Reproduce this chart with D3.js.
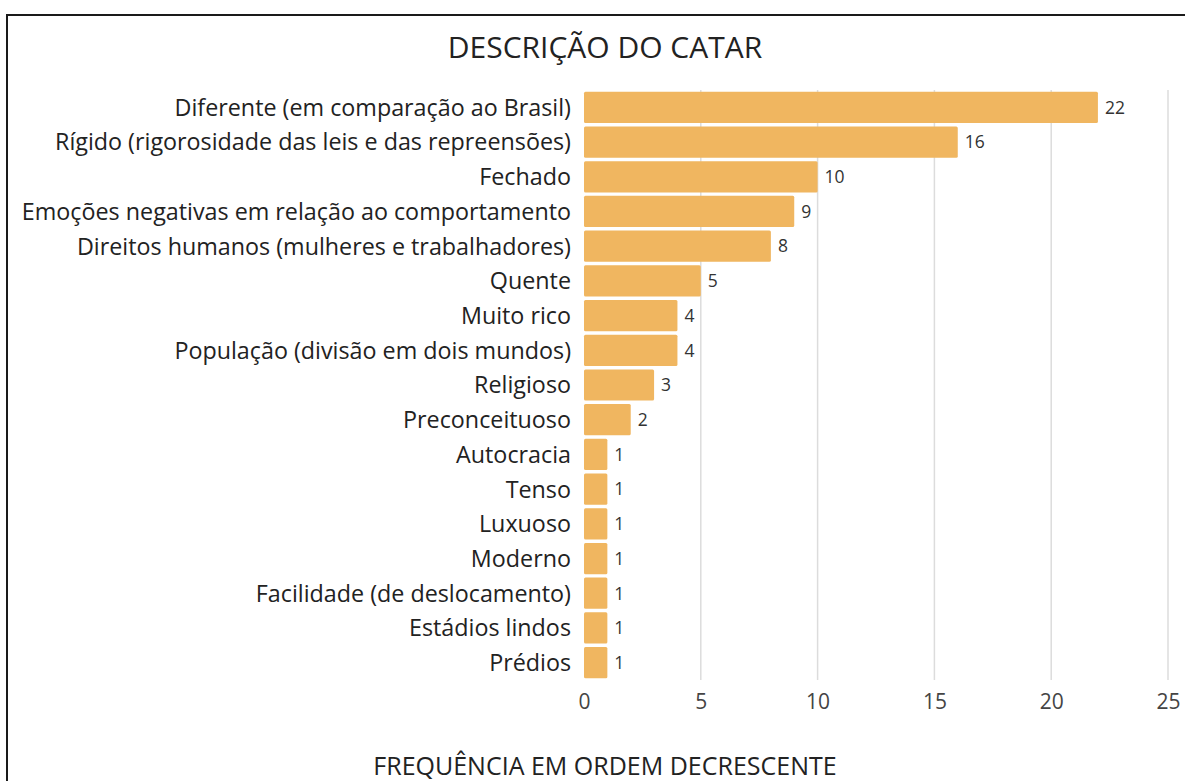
<!DOCTYPE html>
<html>
<head>
<meta charset="utf-8">
<script src="https://cdn.jsdelivr.net/npm/d3@7"></script>
<style>
  html, body { margin: 0; padding: 0; background: #fff; }
  svg { display: block; font-family: "Open Sans", sans-serif; }
</style>
</head>
<body>
<svg id="chart" width="1185" height="781"></svg>
<script>
// Categories and their counts, in descending order
const categories = [
  "Diferente (em comparação ao Brasil)",
  "Rígido (rigorosidade das leis e das repreensões)",
  "Fechado",
  "Emoções negativas em relação ao comportamento",
  "Direitos humanos (mulheres e trabalhadores)",
  "Quente",
  "Muito rico",
  "População (divisão em dois mundos)",
  "Religioso",
  "Preconceituoso",
  "Autocracia",
  "Tenso",
  "Luxuoso",
  "Moderno",
  "Facilidade (de deslocamento)",
  "Estádios lindos",
  "Prédios"
];
const counts = [22, 16, 10, 9, 8, 5, 4, 4, 3, 2, 1, 1, 1, 1, 1, 1, 1];
const xTicks = [0, 5, 10, 15, 20, 25];
const title = "DESCRIÇÃO DO CATAR";
const xTitle = "FREQUÊNCIA EM ORDEM DECRESCENTE";

const svg = d3.select("#chart");

// Frame around the figure
svg.append("rect")
  .attr("x", 7).attr("y", 15)
  .attr("width", 1200).attr("height", 800)
  .attr("fill", "none").attr("stroke", "#1a1a1a").attr("stroke-width", 2);

const x = d3.scaleLinear().domain([0, 25]).range([584, 1168]);
const y = d3.scaleBand().domain(categories).range([90, 680])
  .paddingInner(0.1).paddingOuter(0.05);

// Vertical grid lines
svg.append("g").selectAll("line").data(xTicks.filter(d => d > 0)).join("line")
  .attr("x1", d => x(d)).attr("x2", d => x(d))
  .attr("y1", 90).attr("y2", 680)
  .attr("stroke", "#dcdcdc").attr("stroke-width", 1.5);

// Bars
const data = categories.map((c, i) => ({ c, v: counts[i] }));
svg.append("g").selectAll("rect").data(data).join("rect")
  .attr("x", x(0))
  .attr("y", d => y(d.c))
  .attr("width", d => x(d.v) - x(0))
  .attr("height", y.bandwidth())
  .attr("rx", 1.5)
  .attr("fill", "#f0b660");

// Value labels
svg.append("g").selectAll("text").data(data).join("text")
  .attr("x", d => x(d.v) + 7)
  .attr("y", d => y(d.c) + y.bandwidth() / 2)
  .attr("dy", "0.36em")
  .attr("font-size", 17.5)
  .attr("fill", "#333")
  .text(d => d.v);

// Category labels
svg.append("g").selectAll("text").data(data).join("text")
  .attr("x", 571)
  .attr("y", d => y(d.c) + y.bandwidth() / 2)
  .attr("dy", "0.36em")
  .attr("text-anchor", "end")
  .attr("font-size", 23.3)
  .attr("fill", "#222")
  .text(d => d.c);

// X axis tick labels
const xAxis = d3.axisBottom(x).tickValues(xTicks).tickSize(0).tickPadding(0);
const gx = svg.append("g").attr("transform", "translate(0,709)").call(xAxis);
gx.select(".domain").remove();
gx.selectAll("text")
  .attr("font-family", "Open Sans, sans-serif")
  .attr("font-size", 21)
  .attr("fill", "#444")
  .attr("dy", 0);

// Titles
svg.append("text")
  .attr("x", 605).attr("y", 58)
  .attr("text-anchor", "middle")
  .attr("font-size", 30)
  .attr("fill", "#222")
  .text(title);

svg.append("text")
  .attr("x", 605).attr("y", 775)
  .attr("text-anchor", "middle")
  .attr("font-size", 25)
  .attr("fill", "#222")
  .text(xTitle);
</script>
</body>
</html>
